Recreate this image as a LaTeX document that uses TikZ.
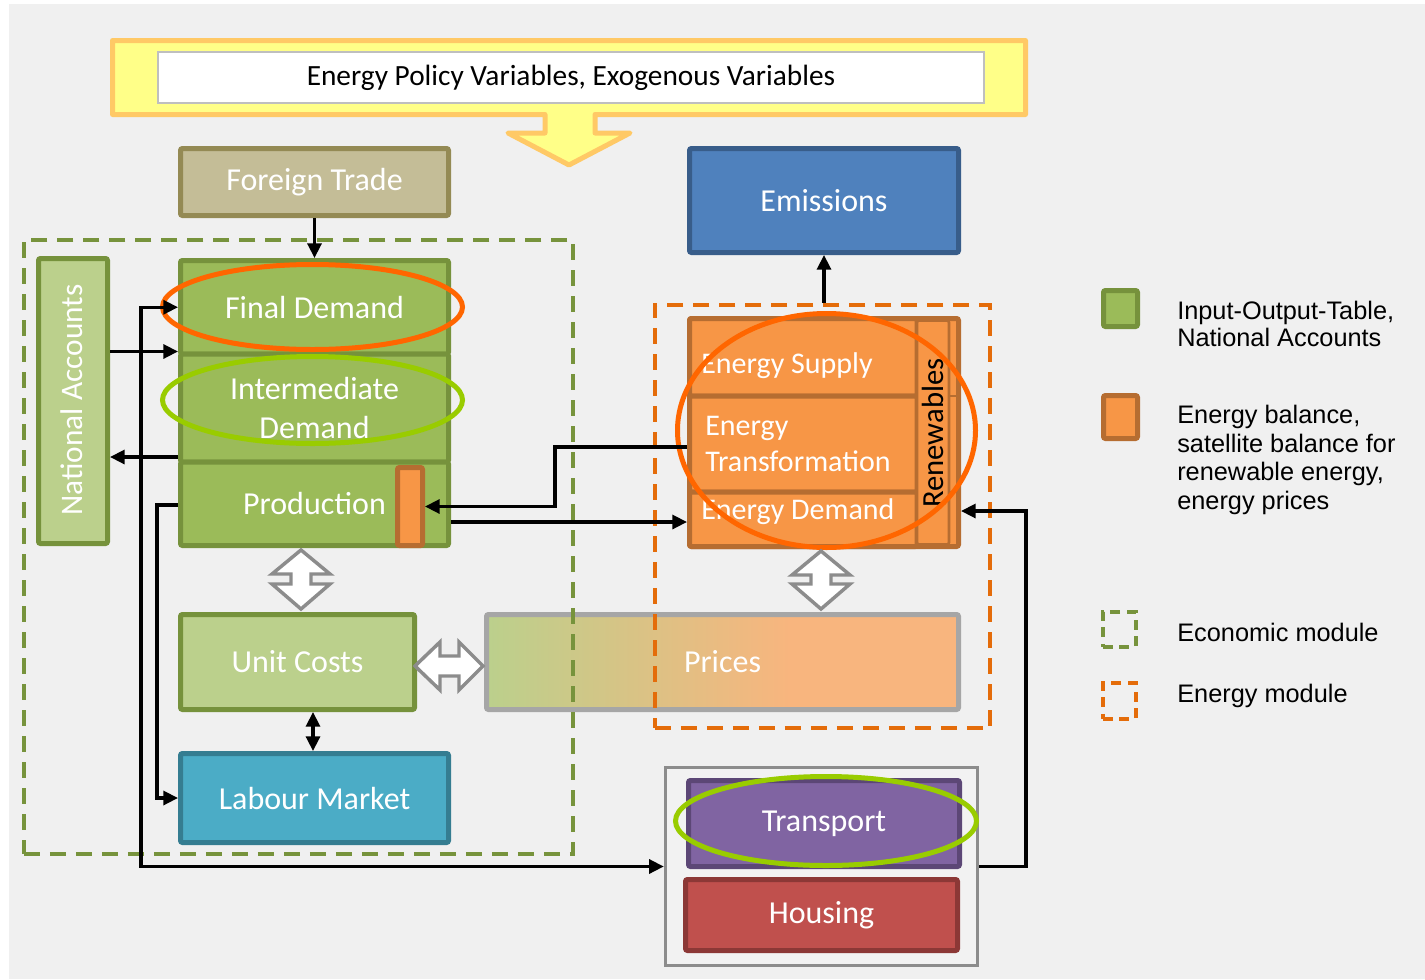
\documentclass[tikz,border=0pt]{standalone}
\usepackage{fontspec}
\setmainfont{Carlito}
\newfontfamily\arialf{Liberation Sans}
\usetikzlibrary{arrows.meta}
\definecolor{bgc}{HTML}{F0F0F0}
\definecolor{banY}{HTML}{FFFF88}
\definecolor{banO}{HTML}{FFC966}
\definecolor{polD}{HTML}{BFBFBF}
\definecolor{ftF}{HTML}{C4BD97}
\definecolor{ftD}{HTML}{948A54}
\definecolor{emF}{HTML}{4F81BD}
\definecolor{emD}{HTML}{385D8A}
\definecolor{gF}{HTML}{9BBB59}
\definecolor{gD}{HTML}{76923C}
\definecolor{lgF}{HTML}{BBD08C}
\definecolor{orF}{HTML}{F79646}
\definecolor{orD}{HTML}{B66D31}
\definecolor{lbF}{HTML}{4BACC6}
\definecolor{lbD}{HTML}{357D91}
\definecolor{trF}{HTML}{8064A2}
\definecolor{trD}{HTML}{5C4776}
\definecolor{hoF}{HTML}{C0504D}
\definecolor{hoD}{HTML}{8C3836}
\definecolor{grD}{HTML}{8C8C8C}
\definecolor{prD}{HTML}{A6A6A6}
\definecolor{prR}{HTML}{F8B57E}
\definecolor{ecoD}{HTML}{77933C}
\definecolor{eneD}{HTML}{E46C0A}
\definecolor{ellO}{HTML}{FF6600}
\definecolor{ellG}{HTML}{99CC00}
\definecolor{grpF}{HTML}{F2F2F2}
\tikzset{
  sz/.style 2 args={minimum width=#1*0.75pt, minimum height=#2*0.75pt},
  box/.style={draw, line width=3.75pt, rounded corners=1.5pt, inner sep=0pt, text=white, font=\fontsize{24}{29}\selectfont},
  lbl/.style={inner sep=0pt, text=white, font=\fontsize{22.5}{26}\selectfont},
  conn/.style={line width=2.4pt, -{Triangle[length=11pt,width=10.5pt]}},
  dconn/.style={line width=2.4pt, {Triangle[length=11pt,width=10.5pt]}-{Triangle[length=11pt,width=10.5pt]}},
  ring/.style={line width=3.75pt},
  blockarrow/.style={draw=grD, fill=white, line width=2.6pt, line join=miter},
  module/.style={line width=3pt, dash pattern=on 12pt off 7.5pt, inner sep=0pt},
  legtext/.style={inner sep=0pt, anchor=west, align=left, font=\arialf\fontsize{19}{21}\selectfont},
}
\begin{document}
\begin{tikzpicture}[x=0.75pt, y=-0.75pt]
\useasboundingbox (0,0) rectangle (1425,979);
\fill[bgc] (9,4) rectangle (1425,979);
% banner with down arrow
\draw[fill=banY, draw=banO, line width=3.75pt, line join=round]
  (112.5,40.5) -- (1025.5,40.5) -- (1025.5,114.5) -- (595,114.5) -- (595,133) -- (630,133)
  -- (569,165) -- (508,133) -- (545,133) -- (545,114.5) -- (112.5,114.5) -- cycle;
\node[draw=polD, fill=white, line width=1.5pt, inner sep=0pt, sz={826}{51}, font=\fontsize{22}{26}\selectfont] (policy) at (571,77.5) {Energy Policy Variables, Exogenous Variables};
% prices gradient
\shade[left color=lgF, right color=prR] (486,614) rectangle (790,710);
\fill[prR] (789,614) rectangle (959,710);
\node[box, draw=prD, sz={472}{95}] (prices) at (722.5,662) {Prices};
% economic boxes
\node[box, fill=ftF, draw=ftD, sz={268}{67}] (foreign) at (314.5,182) {Foreign Trade};
\node[box, fill=emF, draw=emD, sz={269}{104}] (emissions) at (824,200.5) {Emissions};
\node[box, fill=lgF, draw=gD, sz={69}{285}] (natacc) at (73,401) {};
\node[lbl, rotate=90, font=\fontsize{23.5}{28}\selectfont] (natacclbl) at (72,400) {National Accounts};
\node[box, fill=gF, draw=gD, sz={268}{93.5}] (finald) at (314.5,307.25) {Final Demand};
\node[box, fill=gF, draw=gD, sz={268}{108}, align=center] (interd) at (314.5,408) {Intermediate\\Demand};
\node[box, fill=gF, draw=gD, sz={268}{83.5}] (prod) at (314.5,503.75) {Production};
\node[box, fill=orF, draw=orD, sz={25}{78}] (prodbar) at (410,506.5) {};
\node[box, fill=lgF, draw=gD, sz={234}{95}] (unitcosts) at (297.5,662) {Unit Costs};
\node[box, fill=lbF, draw=lbD, sz={268}{89}] (labour) at (314.5,798) {Labour Market};
% energy block
\node[box, fill=orF, draw=orD, sz={269}{228}] (energy) at (824,432.5) {};
\node[box, fill=orF, draw=orD, sz={227.5}{77.5}] (supply) at (803.25,357.25) {};
\node[box, fill=orF, draw=orD, sz={227.5}{96}] (transf) at (803.25,444) {};
\node[box, fill=orF, draw=orD, sz={227.5}{54.5}] (demand) at (803.25,519.25) {};
\node[box, fill=orF, draw=orD, line width=2pt, sz={32}{224}] (renew) at (933,432.5) {};
\draw[orD, line width=1.5pt] (949,396) -- (959,396) (949,492) -- (959,492);
\node[lbl, anchor=west] (supplylbl) at (701,366) {Energy Supply};
\node[lbl, anchor=west, align=left, font=\fontsize{22.5}{26.5}\selectfont] (transflbl) at (705,444) {Energy\\Transformation};
\node[lbl, anchor=west] (demandlbl) at (701,512) {Energy Demand};
\node[lbl, rotate=90, text=black, font=\fontsize{23}{26}\selectfont] (renewlbl) at (933,433) {Renewables};
% transport group
\node[draw=grD, fill=grpF, line width=2.6pt, inner sep=0pt, sz={312}{198}] (tgroup) at (821.5,866.5) {};
\node[box, fill=trF, draw=trD, sz={271}{86}] (transport) at (824,823.5) {Transport};
\node[box, fill=hoF, draw=hoD, sz={272}{71}] (housing) at (821.5,915) {Housing};
% modules
\node[module, draw=ecoD, sz={549.5}{614.5}] (econ) at (298.5,547) {};
\node[module, draw=eneD, sz={335.5}{423.5}] (emod) at (822.5,516.5) {};
% ellipses
\draw[ring, ellO] (312.5,307) ellipse [x radius=112.5pt, y radius=31.875pt];
\draw[ring, ellG] (312.5,400) ellipse [x radius=112.5pt, y radius=32.625pt];
\draw[ring, ellO] (826.5,430.5) ellipse [x radius=111.75pt, y radius=87.75pt];
\draw[ring, ellG] (826,821) ellipse [x radius=112.875pt, y radius=33.375pt];
% block arrows
\draw[blockarrow] (301,550) -- (330,574) -- (311,574) -- (311,584) -- (330,584) -- (301,609)
  -- (272,584) -- (291,584) -- (291,574) -- (272,574) -- cycle;
\draw[blockarrow] (821,551) -- (850,575) -- (831,575) -- (831,584) -- (850,584) -- (821,609)
  -- (792,584) -- (811,584) -- (811,575) -- (792,575) -- cycle;
\draw[blockarrow] (415,666) -- (440,642) -- (440,656) -- (459,656) -- (459,642) -- (483,666)
  -- (459,690) -- (459,676) -- (440,676) -- (440,690) -- cycle;
% connectors
\draw[conn] (foreign.south) -- (finald.north);
\draw[conn] (natacc.east |- interd.north) -- (interd.north west);
\draw[conn] (interd.west |- 0,457) -- (natacc.east |- 0,457);
\draw[dconn] (finald.west) -- (141,307.25) |- (tgroup.west);
\draw[conn] (prod.west |- 0,505) -- (157,505) |- (labour.west);
\draw[conn] (transf.west |- 0,447) -- (555,447) |- (prodbar.east);
\draw[conn] (prod.east |- 0,522) -- (demand.west |- 0,522);
\draw[conn] (emod.north -| emissions.south) -- (emissions.south);
\draw[conn] (tgroup.east) -- (1026,866.5) |- (energy.east |- 0,511);
\draw[dconn] (unitcosts.south -| 313,0) -- (labour.north -| 313,0);
% legend
\node[draw=gD, fill=gF, line width=3.75pt, rounded corners=1.5pt, inner sep=0pt, sz={34}{36}] (lg1) at (1120.5,308.5) {};
\node[legtext, font=\arialf\fontsize{19}{20.5}\selectfont] (lg1t) at (1177,324) {Input-Output-Table,\\National Accounts};
\node[draw=orD, fill=orF, line width=3.75pt, rounded corners=1.5pt, inner sep=0pt, sz={34}{43}] (lg2) at (1120.5,417) {};
\node[legtext, font=\arialf\fontsize{19}{21.5}\selectfont] (lg2t) at (1177,460) {Energy balance,\\satellite balance for\\renewable energy,\\energy prices};
\node[module, draw=ecoD, sz={33}{35}, dash pattern=on 7.5pt off 5pt] (lg3) at (1119,629) {};
\node[legtext] (lg3t) at (1177,632) {Economic module};
\node[module, draw=eneD, sz={33}{36}, dash pattern=on 7.5pt off 5pt] (lg4) at (1119,700.5) {};
\node[legtext] (lg4t) at (1177,696) {Energy module};
\end{tikzpicture}
\end{document}
